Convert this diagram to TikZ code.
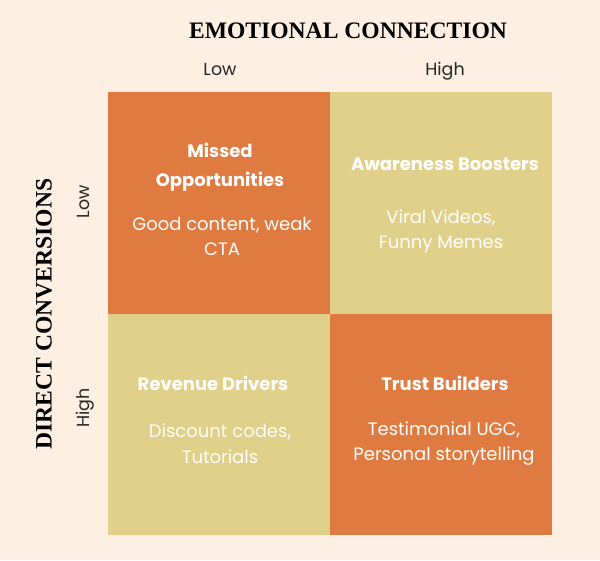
\documentclass[tikz,border=0pt]{standalone}
\usepackage{fontspec}
\setmainfont{Liberation Serif}
\newfontfamily\geo{Poppins}
\definecolor{bgc}{RGB}{253,240,226}
\definecolor{orq}{RGB}{223,122,64}
\definecolor{khq}{RGB}{224,208,138}
\begin{document}
\begin{tikzpicture}[x=1pt,y=-1pt,
  quad/.style={draw=none,minimum width=222pt,minimum height=221.5pt,anchor=north west,inner sep=0pt},
  axtitle/.style={font=\bfseries\fontsize{23.6}{28}\selectfont,text=black,inner sep=0pt},
  axlab/.style={font=\geo\fontsize{17.5}{20}\selectfont,text=black!85,inner sep=0pt,anchor=base},
  head/.style={font=\geo\bfseries\fontsize{18}{29}\selectfont,text=white,align=center,inner sep=0pt},
  body/.style={font=\geo\fontsize{18}{25.5}\selectfont,text=white,align=center,inner sep=0pt}]
\fill[bgc] (0,0) rectangle (600,560);
\useasboundingbox (0,0) rectangle (600,560);
\node[quad,fill=orq] (q1) at (108,92) {};
\node[quad,fill=khq] (q2) at (330,92) {};
\node[quad,fill=khq] (q3) at (108,313.5) {};
\node[quad,fill=orq] (q4) at (330,313.5) {};
\node[axtitle] (xt) at (348,31) {EMOTIONAL CONNECTION};
\node[axtitle,rotate=90] (yt) at (44,314) {DIRECT CONVERSIONS};
\node[axlab] (xl) at (220,75.5) {Low};
\node[axlab] (xh) at (445,75.5) {High};
\node[axlab,rotate=90] (yl) at (89.5,202) {Low};
\node[axlab,rotate=90] (yh) at (89.5,408) {High};
\node[head] (h1) at (220,167) {Missed\\Opportunities};
\node[body] (b1) at (222,236.5) {Good content, weak\\CTA};
\node[head] (h2) at (445,164) {Awareness Boosters};
\node[body] (b2) at (441,231.5) {Viral Videos,\\Funny Memes};
\node[head] (h3) at (213,383) {Revenue Drivers};
\node[body] (b3) at (220,443.5) {Discount codes,\\Tutorials};
\node[head] (h4) at (445,383) {Trust Builders};
\node[body] (b4) at (444,443.5) {Testimonial UGC,\\Personal storytelling};
\end{tikzpicture}
\end{document}
